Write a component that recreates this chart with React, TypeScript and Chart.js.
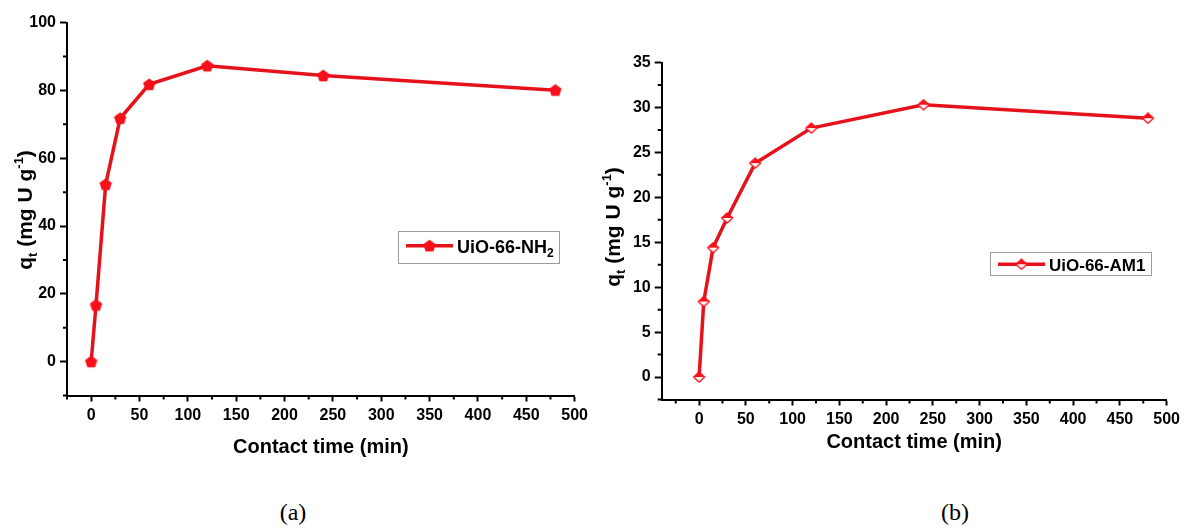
import React, { useEffect, useRef } from 'react';
import { Chart, registerables } from 'chart.js';

Chart.register(...registerables);

// ---------- data ----------
const CONTACT_TIME = [0, 5, 15, 30, 60, 120, 240, 480];
const QT_NH2 = [0, 16.7, 52.3, 71.8, 81.8, 87.3, 84.4, 80.1];
const QT_AM1 = [0, 8.4, 14.4, 17.7, 23.8, 27.7, 30.3, 28.8];

const X_TICKS = [0, 50, 100, 150, 200, 250, 300, 350, 400, 450, 500];
const X_MINOR_TICKS = [-25, 25, 75, 125, 175, 225, 275, 325, 375, 425, 475];
const Y_TICKS_A = [0, 20, 40, 60, 80, 100];
const Y_MINOR_TICKS_A = [-10, 10, 30, 50, 70, 90];
const Y_TICKS_B = [0, 5, 10, 15, 20, 25, 30, 35];
const Y_MINOR_TICKS_B = [-2.5, 2.5, 7.5, 12.5, 17.5, 22.5, 27.5, 32.5];

const X_TITLE = 'Contact time (min)';
const LEGEND_A = ['UiO-66-NH', '2'];
const LEGEND_B = ['UiO-66-AM1', ''];

const LINE_COLOR = '#e6121b';
const MARK_COLOR = '#f7101a';
const FONT = "'Liberation Sans', Arial, Helvetica, sans-serif";

// ---------- markers ----------
function makePentagon(): HTMLCanvasElement {
  const c = document.createElement('canvas');
  c.width = 15;
  c.height = 15;
  const g = c.getContext('2d')!;
  g.beginPath();
  for (let k = 0; k < 5; k++) {
    const a = (-90 + k * 72) * Math.PI / 180;
    const x = 7.5 + 6.5 * Math.cos(a);
    const y = 8 + 6.5 * Math.sin(a);
    if (k === 0) g.moveTo(x, y); else g.lineTo(x, y);
  }
  g.closePath();
  g.fillStyle = MARK_COLOR;
  g.fill();
  return c;
}

function makeHalfDiamond(): HTMLCanvasElement {
  const c = document.createElement('canvas');
  c.width = 14;
  c.height = 12;
  const g = c.getContext('2d')!;
  g.beginPath();
  g.moveTo(7, 1);
  g.lineTo(12.5, 6);
  g.lineTo(7, 11);
  g.lineTo(1.5, 6);
  g.closePath();
  g.fillStyle = '#fff';
  g.fill();
  g.strokeStyle = MARK_COLOR;
  g.lineWidth = 1.3;
  g.stroke();
  g.beginPath();
  g.moveTo(7, 1);
  g.lineTo(12.5, 6);
  g.lineTo(1.5, 6);
  g.closePath();
  g.fillStyle = MARK_COLOR;
  g.fill();
  return c;
}

type Piece = { t: string; size: number; dy?: number };

function drawRich(ctx: CanvasRenderingContext2D, pieces: Piece[], x: number, y: number, rotate: boolean, center: boolean) {
  ctx.save();
  ctx.textBaseline = 'alphabetic';
  ctx.textAlign = 'left';
  let total = 0;
  const widths = pieces.map((p) => {
    ctx.font = `bold ${p.size}px ${FONT}`;
    const w = ctx.measureText(p.t).width;
    total += w;
    return w;
  });
  ctx.translate(x, y);
  if (rotate) ctx.rotate(-Math.PI / 2);
  let cx = center ? -total / 2 : 0;
  pieces.forEach((p, i) => {
    ctx.font = `bold ${p.size}px ${FONT}`;
    ctx.fillText(p.t, cx, p.dy || 0);
    cx += widths[i];
  });
  ctx.restore();
}

type Params = {
  y: number[];
  xMin: number;
  xMax: number;
  yMin: number;
  yMax: number;
  yTicks: number[];
  yMinor: number[];
  marker: HTMLCanvasElement;
  padding: { left: number; top: number; right: number; bottom: number };
  yWidth: number;
  xHeight: number;
  xTitleY: number;
  yTitleX: number;
  yTitleY: number;
  legend: { x: number; y: number; w: number; h: number; lineY: number; textY: number; size: number; label: string[] };
};

function buildConfig(p: Params): any {
  const decor = {
    id: 'decor',
    afterDraw(chart: any) {
      const ctx: CanvasRenderingContext2D = chart.ctx;
      const xs = chart.scales.x;
      const ys = chart.scales.y;
      const area = chart.chartArea;
      ctx.save();
      // minor ticks
      ctx.strokeStyle = '#000';
      ctx.lineWidth = 2;
      ctx.beginPath();
      X_MINOR_TICKS.forEach((v) => {
        const px = xs.getPixelForValue(v);
        ctx.moveTo(px, area.bottom);
        ctx.lineTo(px, area.bottom + 4);
      });
      p.yMinor.forEach((v) => {
        const py = ys.getPixelForValue(v);
        ctx.moveTo(area.left, py);
        ctx.lineTo(area.left - 4, py);
      });
      ctx.stroke();
      // x title
      ctx.fillStyle = '#000';
      ctx.font = `bold 20px ${FONT}`;
      ctx.textAlign = 'center';
      ctx.textBaseline = 'middle';
      ctx.fillText(X_TITLE, (area.left + area.right) / 2, p.xTitleY);
      // y title
      drawRich(
        ctx,
        [
          { t: 'q', size: 21, dy: 7 },
          { t: 't', size: 13, dy: 12 },
          { t: ' (mg U g', size: 21, dy: 7 },
          { t: '-1', size: 13, dy: -2 },
          { t: ')', size: 21, dy: 7 },
        ],
        p.yTitleX,
        p.yTitleY,
        true,
        true
      );
      // legend
      const L = p.legend;
      ctx.fillStyle = '#fff';
      ctx.fillRect(L.x, L.y, L.w, L.h);
      ctx.strokeStyle = '#9c9c9c';
      ctx.lineWidth = 1;
      ctx.strokeRect(L.x + 0.5, L.y + 0.5, L.w, L.h);
      ctx.strokeStyle = LINE_COLOR;
      ctx.lineWidth = 3.5;
      ctx.beginPath();
      ctx.moveTo(L.x + 8, L.lineY);
      ctx.lineTo(L.x + 55, L.lineY);
      ctx.stroke();
      const m = p.marker;
      ctx.drawImage(m, L.x + 31.5 - m.width / 2, L.lineY - m.height / 2);
      ctx.fillStyle = '#000';
      drawRich(
        ctx,
        [
          { t: L.label[0], size: L.size },
          { t: L.label[1], size: 12, dy: 4 },
        ],
        L.x + 59,
        L.textY,
        false,
        false
      );
      ctx.restore();
    },
  };

  const tickFont = { family: FONT, size: 16, weight: 'bold' as const };
  return {
    type: 'line',
    data: {
      datasets: [
        {
          data: CONTACT_TIME.map((x, i) => ({ x, y: p.y[i] })),
          borderColor: LINE_COLOR,
          borderWidth: 3.5,
          tension: 0,
          fill: false,
          pointStyle: p.marker,
          pointRadius: 6,
          pointHoverRadius: 6,
          clip: false,
        },
      ],
    },
    options: {
      animation: false,
      responsive: false,
      maintainAspectRatio: false,
      events: [],
      layout: { padding: p.padding },
      plugins: {
        legend: { display: false },
        tooltip: { enabled: false },
        title: { display: false },
      },
      scales: {
        x: {
          type: 'linear',
          min: p.xMin,
          max: p.xMax,
          afterBuildTicks: (s: any) => {
            s.ticks = X_TICKS.map((v) => ({ value: v }));
          },
          afterFit: (s: any) => {
            s.height = p.xHeight;
          },
          ticks: { font: tickFont, color: '#000', padding: 4, autoSkip: false, maxRotation: 0 },
          grid: { display: true, drawOnChartArea: false, drawTicks: true, tickLength: 6, tickWidth: 2, tickColor: '#000' },
          border: { display: true, color: '#000', width: 2 },
        },
        y: {
          type: 'linear',
          min: p.yMin,
          max: p.yMax,
          afterBuildTicks: (s: any) => {
            s.ticks = p.yTicks.map((v) => ({ value: v }));
          },
          afterFit: (s: any) => {
            s.width = p.yWidth;
          },
          ticks: { font: tickFont, color: '#000', padding: 4 },
          grid: { display: true, drawOnChartArea: false, drawTicks: true, tickLength: 7, tickWidth: 2, tickColor: '#000' },
          border: { display: true, color: '#000', width: 2 },
        },
      },
    },
    plugins: [decor],
  };
}

function ChartBox({ params, left }: { params: () => Params; left: number }) {
  const ref = useRef<HTMLCanvasElement | null>(null);
  useEffect(() => {
    if (!ref.current) return;
    const chart = new Chart(ref.current, buildConfig(params()));
    return () => chart.destroy();
  }, []);
  return (
    <canvas
      ref={ref}
      width={592}
      height={480}
      style={{ position: 'absolute', left, top: 0, width: 592, height: 480 }}
    />
  );
}

const paramsA = (): Params => ({
  y: QT_NH2,
  xMin: -25,
  xMax: 500,
  yMin: -10,
  yMax: 100,
  yTicks: Y_TICKS_A,
  yMinor: Y_MINOR_TICKS_A,
  marker: makePentagon(),
  padding: { left: 0, top: 22.7, right: 15.5, bottom: 0 },
  yWidth: 67,
  xHeight: 84.5,
  xTitleY: 447,
  yTitleX: 25,
  yTitleY: 210,
  legend: { x: 398, y: 231, w: 161, h: 32, lineY: 245.7, textY: 252.5, size: 18, label: LEGEND_A },
});

const paramsB = (): Params => ({
  y: QT_AM1,
  xMin: -40,
  xMax: 500,
  yMin: -2.5,
  yMax: 35,
  yTicks: Y_TICKS_B,
  yMinor: Y_MINOR_TICKS_B,
  marker: makeHalfDiamond(),
  padding: { left: 0, top: 62.5, right: 15, bottom: 0 },
  yWidth: 69.7,
  xHeight: 80.5,
  xTitleY: 442,
  yTitleX: 21,
  yTitleY: 227,
  legend: { x: 398, y: 252, w: 161, h: 23, lineY: 264.3, textY: 270.5, size: 17, label: LEGEND_B },
});

export default function App() {
  const caption: React.CSSProperties = {
    position: 'absolute',
    top: 497,
    width: 60,
    textAlign: 'center',
    fontFamily: "'Liberation Serif', 'Times New Roman', serif",
    fontSize: 24,
    lineHeight: '30px',
    color: '#000',
  };
  return (
    <div style={{ position: 'absolute', left: 0, top: 0, width: 1184, height: 529, background: '#fff', overflow: 'hidden' }}>
      <ChartBox params={paramsA} left={0} />
      <ChartBox params={paramsB} left={592} />
      <div style={{ ...caption, left: 263 }}>(a)</div>
      <div style={{ ...caption, left: 925 }}>(b)</div>
    </div>
  );
}
